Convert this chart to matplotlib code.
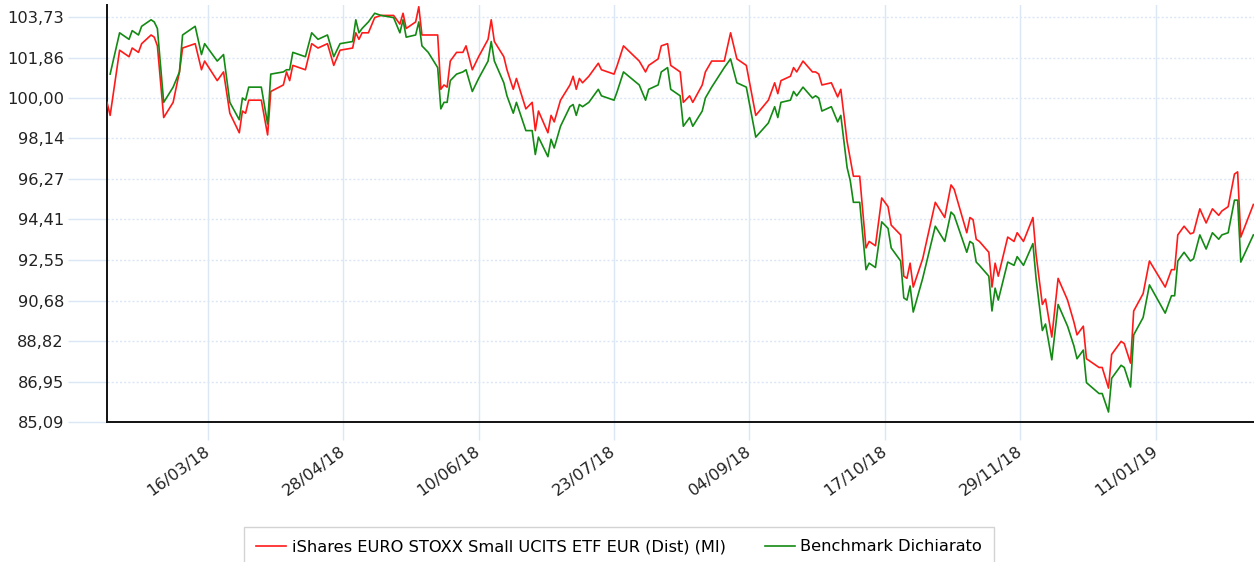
import datetime as dt

import matplotlib
matplotlib.use("Agg")
import matplotlib.dates as mdates
import matplotlib.pyplot as plt
import numpy as np
from matplotlib.ticker import FixedLocator, FuncFormatter

# series (day offset from first date, ETF, benchmark)
start_date = dt.datetime(2018, 2, 12)
day_offset = [
    0, 1, 4, 7, 8, 10, 11, 14, 15, 16, 18, 21, 23, 24, 28, 30, 31, 35, 37, 39,
    42, 43, 44, 45, 49, 51, 52, 56, 57, 58, 59, 63, 65, 67, 70, 72, 74, 78, 79, 80,
    81, 83, 85, 87, 91, 93, 94, 95, 98, 99, 100, 102, 105, 106, 107, 108, 109, 111, 113, 114,
    116, 118, 121, 122, 123, 126, 127, 129, 130, 133, 135, 136, 137, 140, 141, 142, 144, 147, 148, 149,
    150, 151, 153, 156, 157, 161, 162, 164, 169, 171, 172, 175, 176, 178, 179, 182, 183, 185, 186, 189,
    190, 192, 196, 198, 200, 203, 206, 210, 212, 213, 214, 217, 218, 219, 221, 224, 225, 226, 227, 230,
    232, 233, 235, 236, 237, 239, 241, 242, 244, 246, 248, 249, 252, 253, 254, 255, 256, 259, 263, 266,
    268, 269, 273, 274, 275, 276, 277, 280, 281, 282, 283, 286, 288, 289, 291, 294, 295, 297, 298, 300,
    302, 305, 307, 308, 310, 311, 315, 316, 318, 319, 322, 323, 325, 326, 329, 331, 336, 338, 339, 340,
    342, 344, 345, 347, 349, 351, 353, 354, 356, 358, 359, 360, 364,
]
etf_values = [
    99.8, 99.2, 102.2, 101.9, 102.3, 102.1, 102.5, 102.9, 102.8, 102.4, 99.1, 99.8, 101.2, 102.3, 102.5, 101.3, 101.7, 100.8, 101.2, 99.3,
    98.4, 99.4, 99.3, 99.9, 99.9, 98.3, 100.3, 100.6, 101.2, 100.8, 101.5, 101.3, 102.5, 102.3, 102.5, 101.5, 102.2, 102.3, 103.0, 102.7,
    103.0, 103.0, 103.7, 103.8, 103.8, 103.4, 103.9, 103.2, 103.5, 104.2, 102.9, 102.9, 102.9, 100.4, 100.6, 100.5, 101.7, 102.1, 102.1, 102.4,
    101.3, 101.9, 102.7, 103.6, 102.6, 101.9, 101.3, 100.4, 100.9, 99.5, 99.8, 98.5, 99.4, 98.4, 99.2, 98.9, 99.9, 100.6, 101.0, 100.4,
    100.9, 100.7, 101.0, 101.6, 101.3, 101.1, 101.5, 102.4, 101.7, 101.2, 101.5, 101.8, 102.4, 102.5, 101.5, 101.2, 99.8, 100.1, 99.8, 100.6,
    101.2, 101.7, 101.7, 103.0, 101.8, 101.5, 99.2, 99.9, 100.7, 100.2, 100.8, 101.0, 101.4, 101.2, 101.7, 101.2, 101.2, 101.1, 100.6, 100.7,
    100.05, 100.4, 98.0, 97.2, 96.4, 96.4, 93.1, 93.4, 93.2, 95.4, 95.0, 94.15, 93.7, 91.8, 91.7, 92.4, 91.3, 92.6, 95.2, 94.5,
    96.0, 95.8, 93.8, 94.5, 94.4, 93.5, 93.4, 92.9, 91.3, 92.4, 91.8, 93.6, 93.4, 93.8, 93.4, 94.5, 92.8, 90.5, 90.75, 89.0,
    91.7, 90.7, 89.7, 89.1, 89.5, 88.0, 87.6, 87.6, 86.65, 88.2, 88.8, 88.7, 87.8, 90.2, 91.0, 92.5, 91.3, 92.1, 92.1, 93.7,
    94.1, 93.75, 93.8, 94.9, 94.25, 94.9, 94.6, 94.8, 95.0, 96.5, 96.6, 93.6, 95.1,
]
bench_values = [
    np.nan, 101.1, 103.0, 102.7, 103.1, 102.9, 103.3, 103.6, 103.5, 103.2, 99.8, 100.5, 101.2, 102.9, 103.3, 102.0, 102.5, 101.7, 102.0, 99.8,
    99.0, 100.0, 99.9, 100.5, 100.5, 98.8, 101.1, 101.2, 101.3, 101.3, 102.1, 101.9, 103.0, 102.7, 102.9, 101.9, 102.5, 102.6, 103.6, 103.0,
    103.2, 103.5, 103.9, 103.8, 103.7, 103.0, 103.6, 102.8, 102.9, 103.5, 102.4, 102.1, 101.4, 99.5, 99.8, 99.8, 100.8, 101.1, 101.2, 101.3,
    100.3, 100.9, 101.7, 102.6, 101.7, 100.7, 100.1, 99.3, 99.8, 98.5, 98.5, 97.4, 98.2, 97.3, 98.1, 97.7, 98.7, 99.6, 99.7, 99.2,
    99.7, 99.6, 99.8, 100.4, 100.1, 99.9, 100.3, 101.2, 100.6, 99.9, 100.4, 100.6, 101.2, 101.4, 100.4, 100.1, 98.7, 99.1, 98.7, 99.4,
    100.0, 100.5, 101.4, 101.8, 100.7, 100.5, 98.2, 98.85, 99.6, 99.1, 99.8, 99.9, 100.3, 100.1, 100.5, 100.0, 100.1, 100.0, 99.4, 99.6,
    98.9, 99.2, 96.8, 96.2, 95.2, 95.2, 92.1, 92.4, 92.2, 94.3, 94.0, 93.1, 92.5, 90.8, 90.7, 91.35, 90.15, 91.7, 94.1, 93.4,
    94.75, 94.6, 92.9, 93.4, 93.3, 92.45, 92.3, 91.8, 90.2, 91.25, 90.7, 92.45, 92.3, 92.7, 92.3, 93.3, 91.7, 89.3, 89.6, 87.95,
    90.5, 89.5, 88.6, 88.0, 88.4, 86.9, 86.4, 86.4, 85.55, 87.1, 87.7, 87.6, 86.7, 89.1, 89.9, 91.4, 90.1, 90.9, 90.9, 92.5,
    92.9, 92.5, 92.6, 93.7, 93.05, 93.8, 93.5, 93.7, 93.8, 95.3, 95.3, 92.45, 93.7,
]
y_ticks = [85.09, 86.95, 88.82, 90.68, 92.55, 94.41, 96.27, 98.14, 100.00, 101.86, 103.73]
x_tick_labels = ["16/03/18", "28/04/18", "10/06/18", "23/07/18", "04/09/18", "17/10/18", "29/11/18", "11/01/19"]
series_names = ["iShares EURO STOXX Small UCITS ETF EUR (Dist) (MI)", "Benchmark Dichiarato"]

dates = [start_date + dt.timedelta(days=d) for d in day_offset]
x_ticks = [dt.datetime.strptime(s, "%d/%m/%y") for s in x_tick_labels]

grid_blue = "#dbe7f4"
fsize = 11.7

fig = plt.figure(figsize=(12.54, 5.62), dpi=100)
ax = fig.add_axes([107 / 1254, 1 - 422 / 562, 1 - 107 / 1254, (422 - 5) / 562])

ax.plot(dates, etf_values, color="#ff1a1a", lw=1.2, label=series_names[0], zorder=3)
ax.plot(dates, bench_values, color="#138a13", lw=1.2, label=series_names[1], zorder=3)

ax.set_xlim(start_date, start_date + dt.timedelta(days=364.2))
ax.set_ylim(85.09, 104.28)

ax.yaxis.set_major_locator(FixedLocator(y_ticks))
ax.yaxis.set_major_formatter(FuncFormatter(lambda v, _: f"{v:.2f}".replace(".", ",")))
ax.set_xticks(x_ticks)
ax.xaxis.set_major_formatter(mdates.DateFormatter("%d/%m/%y"))

ax.grid(axis="y", color=grid_blue, linestyle=(0, (1.5, 1.5)), lw=1, zorder=0)
ax.grid(axis="x", color=grid_blue, linestyle="-", lw=1, zorder=0)

ax.tick_params(axis="y", length=28, width=1, color=grid_blue, pad=3, labelsize=fsize, labelcolor="#222222")
ax.tick_params(axis="x", length=13, width=1, color=grid_blue, pad=7, labelsize=fsize, labelcolor="#222222")
for lbl in ax.get_xticklabels():
    lbl.set_rotation(36)
    lbl.set_ha("right")
    lbl.set_va("center")
    lbl.set_rotation_mode("anchor")

for side in ("top", "right"):
    ax.spines[side].set_visible(False)
for side in ("left", "bottom"):
    ax.spines[side].set_color("#111111")
    ax.spines[side].set_linewidth(1.4)

leg = fig.legend(
    loc="upper center", bbox_to_anchor=(619 / 1254, 1 - 527 / 562), ncol=2,
    frameon=True, fancybox=False, edgecolor="#c8c8c8", fontsize=fsize,
    handlelength=1.85, handletextpad=0.35, columnspacing=2.4, borderpad=0.75,
    borderaxespad=0,
)
leg.get_frame().set_linewidth(1)

fig.savefig("out.png", dpi=100)
